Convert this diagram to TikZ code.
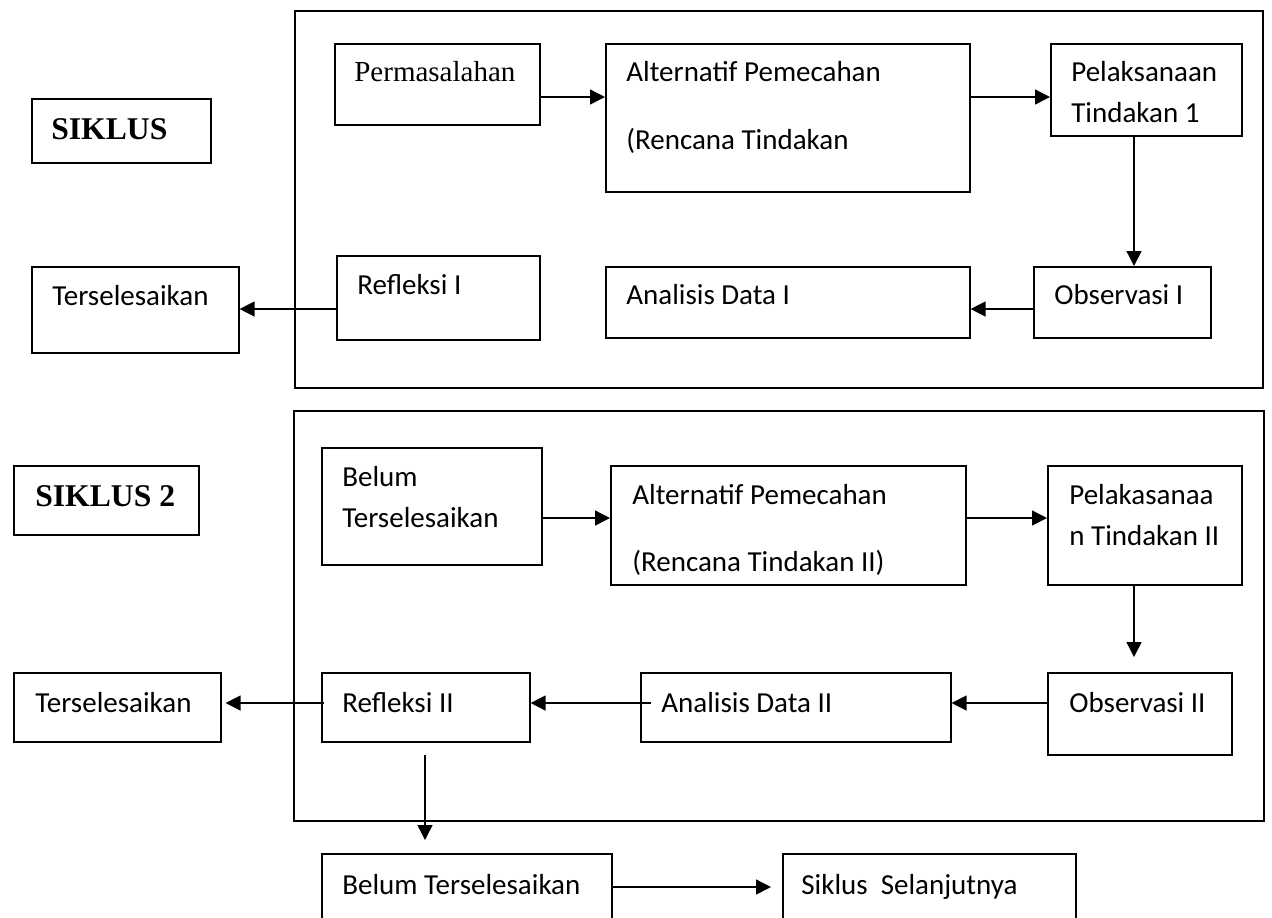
\documentclass[tikz,border=0pt]{standalone}
\usepackage{fontspec}
\setmainfont{Carlito}
\newfontfamily\timesfont{Liberation Serif}
\usetikzlibrary{arrows.meta}

\begin{document}
\begin{tikzpicture}[x=0.2mm,y=-0.2mm,
  box/.style={draw,line width=0.9pt,anchor=north west,inner sep=0pt},
  wh/.style 2 args={minimum width=#1*0.2mm,minimum height=#2*0.2mm},
  arr/.style={-{Triangle[length=3mm,width=3mm]},line width=0.8pt},
  txt/.style={anchor=base west,inner sep=0pt,font=\fontsize{16.5}{20}\selectfont},
  sertxt/.style={txt,font=\timesfont\fontsize{16.5}{20}\selectfont},
  ttl/.style={anchor=base west,inner sep=0pt,font=\timesfont\bfseries\fontsize{18}{22}\selectfont}]
\useasboundingbox (0,0) rectangle (1272,917);

\node[box,wh={968}{377}] (cyc1) at (294,10) {};
\node[box,wh={179}{64}] (sik1) at (31,98) {};
\node[box,wh={205}{81}] (perm) at (334,43) {};
\node[box,wh={364}{148}] (alt1) at (605,43) {};
\node[box,wh={191}{92}] (pel1) at (1050,43) {};
\node[box,wh={207}{86}] (ters1) at (31,266) {};
\node[box,wh={203}{84}] (ref1) at (336,255) {};
\node[box,wh={364}{71}] (ana1) at (605,266) {};
\node[box,wh={177}{71}] (obs1) at (1033,266) {};

\node[box,wh={970}{410}] (cyc2) at (293,410) {};
\node[box,wh={185}{69}] (sik2) at (13,465) {};
\node[box,wh={220}{117}] (bel2) at (321,447) {};
\node[box,wh={355}{119}] (alt2) at (610,465) {};
\node[box,wh={194}{119}] (pel2) at (1047,465) {};
\node[box,wh={207}{69}] (ters2) at (13,672) {};
\node[box,wh={208}{69}] (ref2) at (321,672) {};
\node[box,wh={310}{69}] (ana2) at (640,672) {};
\node[box,wh={184}{82}] (obs2) at (1047,672) {};
\node[box,wh={290}{90}] (bel3) at (321,853) {};
\node[box,wh={293}{90}] (lanjut) at (782,853) {};

\node[ttl] (sik1t) at (51,139) {SIKLUS};
\node[sertxt] (permt) at (354,81) {Permasalahan};
\node[txt] (alt1a) at (626,81) {Alternatif Pemecahan};
\node[txt] (alt1b) at (626,149) {(Rencana Tindakan};
\node[txt] (pel1a) at (1071,81) {Pelaksanaan};
\node[txt] (pel1b) at (1071,122) {Tindakan 1};
\node[txt] (ters1t) at (52,305) {Terselesaikan};
\node[txt] (ref1t) at (357,294) {Refleksi I};
\node[txt] (ana1t) at (626,304) {Analisis Data I};
\node[txt] (obs1t) at (1054,304) {Observasi I};

\node[ttl] (sik2t) at (35,506) {SIKLUS 2};
\node[txt] (bel2a) at (342,486) {Belum};
\node[txt] (bel2b) at (342,527) {Terselesaikan};
\node[txt] (alt2a) at (632,504) {Alternatif Pemecahan};
\node[txt] (alt2b) at (632,571) {(Rencana Tindakan II)};
\node[txt] (pel2a) at (1069,504) {Pelakasanaa};
\node[txt] (pel2b) at (1069,545) {n Tindakan II};
\node[txt] (ters2t) at (35,712) {Terselesaikan};
\node[txt] (ref2t) at (342,712) {Refleksi II};
\node[txt] (ana2t) at (661,712) {Analisis Data II};
\node[txt] (obs2t) at (1069,712) {Observasi II};
\node[txt] (bel3t) at (342,894) {Belum Terselesaikan};
\node[txt] (lanjutt) at (801,894) {Siklus~ Selanjutnya};

\coordinate (row1) at (0,97);
\coordinate (row2) at (0,309);
\coordinate (row3) at (0,518);
\coordinate (row4) at (0,703);
\coordinate (row5) at (0,887);
\coordinate (col1) at (1134,0);
\coordinate (col2) at (425,0);

\draw[arr] (perm.east |- row1) -- (alt1.west |- row1);
\draw[arr] (alt1.east |- row1) -- (pel1.west |- row1);
\draw[arr] (pel1.south -| col1) -- (obs1.north -| col1);
\draw[arr] (obs1.west |- row2) -- (ana1.east |- row2);
\draw[arr] (ref1.west |- row2) -- (ters1.east |- row2);

\draw[arr] (bel2.east |- row3) -- (alt2.west |- row3);
\draw[arr] (alt2.east |- row3) -- (pel2.west |- row3);
\draw[arr,shorten >=3mm] (pel2.south -| col1) -- (obs2.north -| col1);
\draw[arr] (obs2.west |- row4) -- (ana2.east |- row4);
\draw[arr,shorten <=-2.2mm] (ana2.west |- row4) -- (ref2.east |- row4);
\draw[arr,shorten <=-0.6mm,shorten >=0.8mm] (ref2.west |- row4) -- (ters2.east |- row4);
\draw[arr,shorten <=2.4mm,shorten >=2.6mm] (ref2.south -| col2) -- (bel3.north -| col2);
\draw[arr,shorten >=2.2mm] (bel3.east |- row5) -- (lanjut.west |- row5);
\end{tikzpicture}
\end{document}
